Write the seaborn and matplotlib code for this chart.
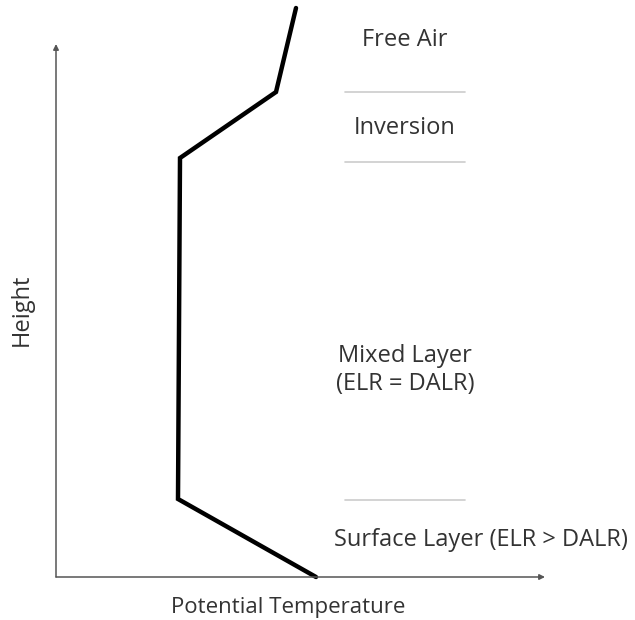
import pandas as pd
import matplotlib
matplotlib.use('Agg')
import matplotlib.pyplot as plt
import seaborn as sns

# profile of potential temperature with height (arbitrary units, origin at axes corner)
theta = [260, 122, 124, 220, 240]
height = [0, 78, 419, 485, 569]

# layer boundaries and labels
boundary_heights = [485, 415, 77]
boundary_theta = [289, 409]
layer_labels = ['Free Air', 'Inversion', 'Mixed Layer\n(ELR = DALR)', 'Surface Layer (ELR > DALR)']
label_theta = [349, 349, 349, 425]
label_heights = [537, 449, 207, 37]

x_axis_end = 489
y_axis_end = 533


def plot_profile():
    sns.set_theme(style='white')
    plt.rcParams['font.family'] = ['Open Sans', 'DejaVu Sans']
    fig = plt.figure(figsize=(6.35, 6.2), dpi=100)
    ax = fig.add_axes([0, 0, 1, 1])
    ax.set_xlim(-56, 579)
    ax.set_ylim(-43, 577)
    ax.axis('off')

    # axes with arrows
    ax.annotate('', xy=(x_axis_end, 0), xytext=(0, 0),
                arrowprops=dict(arrowstyle='-|>', color='#555555', lw=1.1,
                                mutation_scale=8, shrinkA=0, shrinkB=0))
    ax.annotate('', xy=(0, y_axis_end), xytext=(0, 0),
                arrowprops=dict(arrowstyle='-|>', color='#555555', lw=1.1,
                                mutation_scale=8, shrinkA=0, shrinkB=0))

    df = pd.DataFrame({'theta': theta, 'height': height})
    sns.lineplot(x='theta', y='height', data=df, sort=False, color='black',
                 lw=3.2, ax=ax, solid_joinstyle='miter')

    for h in boundary_heights:
        ax.plot(boundary_theta, [h, h], color='#cccccc', lw=1.2)

    for lab, xt, yt in zip(layer_labels, label_theta, label_heights):
        ax.text(xt, yt, lab, ha='center', va='center', fontsize=17,
                color='#333333', linespacing=1.2)

    ax.text(232, -30, 'Potential Temperature', ha='center', va='center',
            fontsize=16, color='#333333')
    ax.text(-34, 267, 'Height', ha='center', va='center', rotation=90,
            fontsize=17, color='#333333')

    plt.savefig('out.png', dpi=100)


def main():
    plot_profile()


if __name__ == '__main__':
    main()
